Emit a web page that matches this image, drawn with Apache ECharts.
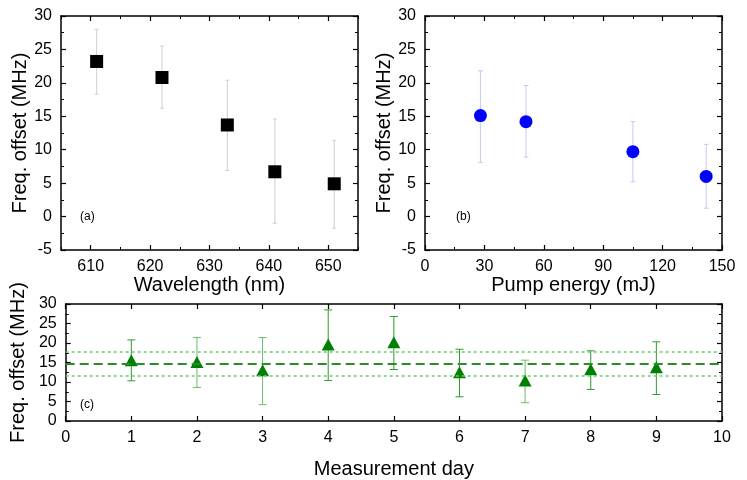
<!DOCTYPE html>
<html>
<head>
<meta charset="utf-8">
<script src="https://cdn.jsdelivr.net/npm/echarts@6/dist/echarts.min.js"></script>
<style>
  html, body { margin: 0; padding: 0; background: #fff; }
  #chart { width: 747px; height: 480px; }
</style>
</head>
<body>
<div id="chart"></div>
<script>
// (a) frequency offset vs wavelength
const wavelength = [611, 622, 633, 641, 651];
const offsetA = [23.2, 20.8, 13.7, 6.7, 4.9];
const lowA = [18.3, 16.2, 6.9, -1.0, -1.75];
const highA = [28.0, 25.5, 20.4, 14.6, 11.4];
const waveTicks = [610, 620, 630, 640, 650];
const waveMinorTicks = [605, 615, 625, 635, 645, 655];

// (b) frequency offset vs pump energy
const pumpEnergy = [28, 51, 105, 142];
const offsetB = [15.1, 14.2, 9.7, 6.0];
const lowB = [8.1, 8.9, 5.2, 1.25];
const highB = [21.8, 19.6, 14.2, 10.8];

// (c) frequency offset per measurement day
const days = [1, 2, 3, 4, 5, 6, 7, 8, 9];
const offsetC = [15.6, 15.1, 13.0, 19.6, 20.2, 12.5, 10.4, 13.3, 13.8];
const lowC = [10.3, 8.6, 4.2, 10.4, 13.2, 6.2, 4.7, 8.1, 6.8];
const highC = [20.8, 21.4, 21.4, 28.5, 26.8, 18.4, 15.6, 18.0, 20.3];
const meanC = 14.7;
const bandC = [11.6, 17.7];

const lightDays = [2, 3, 7];

const chart = echarts.init(document.getElementById('chart'));
const font = 'Liberation Sans, Arial, Helvetica, sans-serif';

function errorBars(color, capHalf) {
  return function (params, api) {
    const x = api.value(0);
    const lo = api.coord([x, api.value(1)]);
    const hi = api.coord([x, api.value(2)]);
    const c = typeof color === 'function' ? color(x) : color;
    const style = { stroke: c, lineWidth: 1 };
    return {
      type: 'group',
      children: [
        { type: 'line', shape: { x1: lo[0], y1: lo[1], x2: hi[0], y2: hi[1] }, style: style },
        { type: 'line', shape: { x1: lo[0] - capHalf, y1: lo[1], x2: lo[0] + capHalf, y2: lo[1] }, style: style },
        { type: 'line', shape: { x1: hi[0] - capHalf, y1: hi[1], x2: hi[0] + capHalf, y2: hi[1] }, style: style }
      ]
    };
  };
}

function axis(gridIndex, position, min, max, interval, minorSplit, showLabel, name, nameGap) {
  return {
    type: 'value',
    gridIndex: gridIndex,
    position: position,
    min: min,
    max: max,
    interval: interval,
    name: name || '',
    nameLocation: 'middle',
    nameGap: nameGap || 0,
    nameTextStyle: { fontFamily: font, fontSize: 20, color: '#000' },
    axisLine: { show: true, onZero: false, lineStyle: { color: '#000', width: 1.5 } },
    axisTick: { show: true, inside: true, length: 5, lineStyle: { color: '#000', width: 1.2 } },
    minorTick: { show: minorSplit > 1, splitNumber: minorSplit, length: 3, lineStyle: { color: '#000', width: 1 } },
    splitLine: { show: false },
    axisLabel: { show: showLabel, fontFamily: font, fontSize: 16, color: '#000', margin: 9 }
  };
}

// wavelength axis: ticks at 610..650 although the range starts at 605
function waveAxis(position, showLabel, name) {
  const a = axis(0, position, 605, 655, null, 0, showLabel, name, 20);
  delete a.interval;
  a.axisTick.customValues = waveTicks;
  a.axisLabel.customValues = waveTicks;
  return a;
}
function waveMinorAxis(position) {
  const a = axis(0, position, 605, 655, null, 0, false);
  delete a.interval;
  a.axisLine.show = false;
  a.axisTick.customValues = waveMinorTicks;
  a.axisTick.length = 3;
  a.axisTick.lineStyle.width = 1;
  return a;
}

const option = {
  animation: false,
  backgroundColor: '#fff',
  grid: [
    { left: 61, top: 16, width: 297, height: 234 },
    { left: 425, top: 16, width: 297, height: 234 },
    { left: 60, top: 304, width: 662, height: 117 }
  ],
  xAxis: [
    waveAxis('bottom', true, 'Wavelength (nm)'),
    waveAxis('top', false),
    axis(1, 'bottom', 0, 150, 30, 2, true, 'Pump energy (mJ)', 20),
    axis(1, 'top', 0, 150, 30, 2, false),
    axis(2, 'bottom', 0, 10, 1, 0, true, 'Measurement day', 38),
    axis(2, 'top', 0, 10, 1, 0, false),
    waveMinorAxis('bottom'),
    waveMinorAxis('top')
  ],
  yAxis: [
    axis(0, 'left', -5, 30, 5, 2, true, 'Freq. offset (MHz)', 30),
    axis(0, 'right', -5, 30, 5, 2, false),
    axis(1, 'left', -5, 30, 5, 2, true, 'Freq. offset (MHz)', 26),
    axis(1, 'right', -5, 30, 5, 2, false),
    axis(2, 'left', 0, 30, 5, 2, true, 'Freq. offset (MHz)', 30),
    axis(2, 'right', 0, 30, 5, 2, false)
  ],
  graphic: [
    { type: 'text', left: 80, top: 211, style: { text: '(a)', font: '12px ' + font, fill: '#000' } },
    { type: 'text', left: 456, top: 211, style: { text: '(b)', font: '12px ' + font, fill: '#000' } },
    { type: 'text', left: 80, top: 399, style: { text: '(c)', font: '12px ' + font, fill: '#000' } }
  ],
  series: [
    {
      type: 'custom', xAxisIndex: 0, yAxisIndex: 0, silent: true,
      renderItem: errorBars('#cfcfcf', 2),
      encode: { x: 0, y: [1, 2] },
      data: wavelength.map((w, i) => [w, lowA[i], highA[i]]),
      z: 1
    },
    {
      type: 'scatter', xAxisIndex: 0, yAxisIndex: 0,
      symbol: 'rect', symbolSize: 13,
      itemStyle: { color: '#000', opacity: 1 },
      data: wavelength.map((w, i) => [w, offsetA[i]]),
      z: 3
    },
    {
      type: 'custom', xAxisIndex: 2, yAxisIndex: 2, silent: true,
      renderItem: errorBars('#c8c8f4', 2.5),
      encode: { x: 0, y: [1, 2] },
      data: pumpEnergy.map((p, i) => [p, lowB[i], highB[i]]),
      z: 1
    },
    {
      type: 'scatter', xAxisIndex: 2, yAxisIndex: 2,
      symbol: 'circle', symbolSize: 13,
      itemStyle: { color: '#0000ff', opacity: 1 },
      data: pumpEnergy.map((p, i) => [p, offsetB[i]]),
      z: 3
    },
    {
      type: 'custom', xAxisIndex: 4, yAxisIndex: 4, silent: true,
      renderItem: errorBars(d => lightDays.includes(d) ? '#6cbc6c' : '#2e9a2e', 4),
      encode: { x: 0, y: [1, 2] },
      data: days.map((d, i) => [d, lowC[i], highC[i]]),
      z: 2
    },
    {
      type: 'scatter', xAxisIndex: 4, yAxisIndex: 4,
      symbol: 'triangle', symbolSize: [13, 12],
      itemStyle: { color: '#008000', opacity: 1 },
      data: days.map((d, i) => [d, offsetC[i]]),
      z: 3,
      markLine: {
        silent: true,
        symbol: 'none',
        label: { show: false },
        data: [
          { yAxis: meanC, lineStyle: { color: '#2a8c2a', width: 2, type: [9, 5], opacity: 1 } },
          { yAxis: bandC[0], lineStyle: { color: '#6ccc6c', width: 1.5, type: [3, 3], opacity: 1 } },
          { yAxis: bandC[1], lineStyle: { color: '#6ccc6c', width: 1.5, type: [3, 3], opacity: 1 } }
        ]
      }
    }
  ]
};

chart.setOption(option);
</script>
</body>
</html>
